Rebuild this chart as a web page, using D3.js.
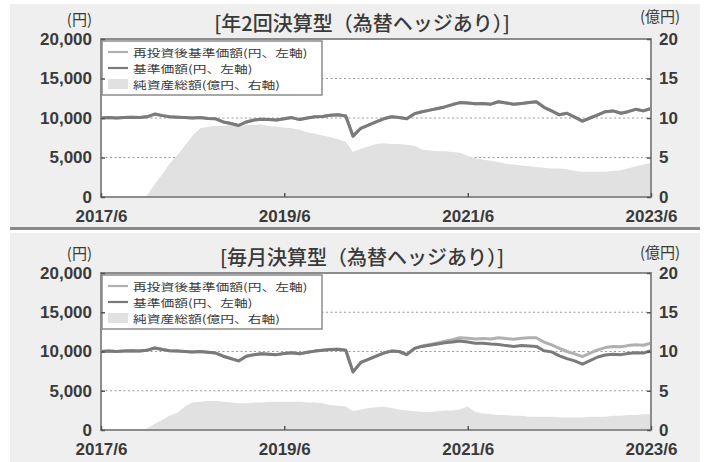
<!DOCTYPE html>
<html>
<head>
<meta charset="utf-8">
<script src="https://cdn.jsdelivr.net/npm/d3@7"></script>
<style>
    body { margin: 0; background: #fff; }
    svg { display: block; font-family: "Liberation Sans", Arial, sans-serif; }
    .jp { font-family: "Noto Sans CJK JP", sans-serif; }
</style>
</head>
<body>
<div id="chart"></div>
<script>
// x axis: monthly points from 2017/6 to 2023/6
const MONTHS = d3.timeMonth.range(new Date(2017, 5, 1), new Date(2023, 6, 1));
const X_TICKS = [new Date(2017, 5, 1), new Date(2019, 5, 1), new Date(2021, 5, 1), new Date(2023, 5, 1)];
const Y_LEFT_TICKS = [0, 5000, 10000, 15000, 20000];
const Y_RIGHT_TICKS = [0, 5, 10, 15, 20];
const GRID_TICKS = [5000, 10000, 15000];
const LEGEND_LABELS = ["再投資後基準価額(円、左軸)", "基準価額(円、左軸)", "純資産総額(億円、右軸)"];
const TITLES = ["[年2回決算型（為替ヘッジあり）]", "[毎月決算型（為替ヘッジあり）]"];

// 年2回決算型 — 基準価額 (円)
const semiNav = [
    10000, 10050, 10000, 10050, 10100, 10050, 10150, 10500, 10300, 10150, 10100, 10050,
    10000, 10050, 9950, 9900, 9500, 9300, 9050, 9500, 9750, 9850, 9800, 9750,
    9900, 10050, 9800, 10000, 10150, 10200, 10350, 10400, 10250, 7700, 8700, 9100,
    9500, 9900, 10150, 10050, 9900, 10550, 10800, 11000, 11200, 11400, 11700, 11950,
    11900, 11800, 11850, 11750, 12050, 11900, 11750, 11850, 11950, 12050, 11350, 10900,
    10400, 10600, 10100, 9600, 10000, 10400, 10800, 10900, 10600, 10800, 11100, 10900,
    11200
];
// no distributions paid, so the reinvested line sits under the NAV line
const semiReinv = semiNav;
// 年2回決算型 — 純資産総額 (億円)
const semiAssets = [
    0, 0, 0, 0, 0, 0, 0.2, 1.6, 2.9, 4.2, 5.3, 6.5,
    7.8, 8.7, 8.9, 9.0, 9.0, 9.1, 9.0, 9.1, 9.1, 9.2, 9.0, 8.9,
    8.8, 8.7, 8.5, 8.2, 8.0, 7.8, 7.6, 7.3, 7.0, 5.7, 6.1, 6.4,
    6.7, 6.8, 6.7, 6.7, 6.6, 6.5, 6.0, 5.9, 5.8, 5.8, 5.7, 5.6,
    5.2, 4.9, 4.7, 4.6, 4.4, 4.2, 4.1, 4.0, 3.9, 3.8, 3.7, 3.6,
    3.6, 3.5, 3.3, 3.2, 3.2, 3.2, 3.2, 3.3, 3.4, 3.6, 3.9, 4.1,
    4.3
];

// 毎月決算型 — 再投資後基準価額 (円)
const monthlyReinv = [
    10000, 10050, 10000, 10050, 10100, 10050, 10150, 10450, 10250, 10100, 10050, 10000,
    9950, 10000, 9900, 9800, 9400, 9100, 8800, 9400, 9600, 9700, 9650, 9600,
    9750, 9850, 9700, 9900, 10050, 10150, 10250, 10300, 10150, 7400, 8600, 9000,
    9400, 9800, 10050, 10000, 9600, 10400, 10700, 10900, 11100, 11300, 11500, 11750,
    11700, 11600, 11650, 11600, 11750, 11650, 11550, 11700, 11750, 11750, 11200, 10850,
    10400, 10000, 9700, 9350, 9800, 10200, 10500, 10650, 10600, 10750, 10850, 10800,
    11050
];
// 毎月決算型 — 基準価額 (円)
const monthlyNav = [
    10000, 10050, 10000, 10050, 10100, 10050, 10150, 10450, 10250, 10100, 10050, 10000,
    9950, 10000, 9900, 9800, 9400, 9100, 8800, 9400, 9600, 9700, 9650, 9600,
    9750, 9850, 9700, 9900, 10050, 10150, 10250, 10300, 10150, 7400, 8600, 9000,
    9400, 9800, 10050, 10000, 9600, 10400, 10650, 10800, 10950, 11100, 11200, 11350,
    11200, 11050, 11050, 10950, 10900, 10750, 10650, 10750, 10700, 10650, 10100, 9950,
    9450, 9100, 8800, 8400, 8850, 9300, 9550, 9650, 9600, 9750, 9850, 9800,
    10100
];
// 毎月決算型 — 純資産総額 (億円)
const monthlyAssets = [
    0, 0, 0, 0, 0, 0, 0.2, 0.8, 1.3, 1.8, 2.2, 3.0,
    3.5, 3.6, 3.7, 3.7, 3.6, 3.5, 3.4, 3.4, 3.5, 3.5, 3.6, 3.6,
    3.6, 3.6, 3.6, 3.5, 3.5, 3.4, 3.2, 3.1, 3.0, 2.4, 2.6, 2.8,
    2.9, 3.0, 2.8, 2.6, 2.5, 2.4, 2.3, 2.3, 2.4, 2.5, 2.5, 2.6,
    3.0, 2.3, 2.1, 2.0, 1.9, 1.9, 1.8, 1.8, 1.7, 1.7, 1.7, 1.7,
    1.6, 1.6, 1.6, 1.6, 1.7, 1.7, 1.7, 1.8, 1.8, 1.9, 1.9, 2.0,
    2.0
];

const C_REINV = "#b0b0b0", C_NAV = "#7a7a7a", C_AREA = "#e1e1e1", C_AXIS = "#8c8c8c", C_TEXT = "#3a3a3a";

const svg = d3.select("#chart").append("svg").attr("width", 711).attr("height", 462);

const x = d3.scaleTime().domain([X_TICKS[0], X_TICKS[3]]).range([101, 651]);

const panels = [
    { top: 4, bottom: 228, plotTop: 39, plotBottom: 197, titleY: 31, unitRY: 22,
      title: TITLES[0], reinv: semiReinv, nav: semiNav, assets: semiAssets },
    { top: 233, bottom: 462, plotTop: 273, plotBottom: 430, titleY: 265, unitRY: 258,
      title: TITLES[1], reinv: monthlyReinv, nav: monthlyNav, assets: monthlyAssets }
];

panels.forEach(p => drawPanel(p));

// separator rule between the two panels
svg.append("rect").attr("x", 10).attr("y", 227).attr("width", 690).attr("height", 3).attr("fill", "#8a8a8a");

function drawPanel(p) {
    const g = svg.append("g");
    const L = x.range()[0], R = x.range()[1];

    g.append("rect").attr("x", 10).attr("y", p.top).attr("width", 690).attr("height", p.bottom - p.top)
        .attr("fill", "#efefef");
    g.append("rect").attr("x", L).attr("y", p.plotTop).attr("width", R - L).attr("height", p.plotBottom - p.plotTop)
        .attr("fill", "#fff");

    const yL = d3.scaleLinear().domain([0, 20000]).range([p.plotBottom, p.plotTop]);
    const yR = d3.scaleLinear().domain([0, 20]).range([p.plotBottom, p.plotTop]);

    // dotted gridlines
    g.selectAll(".grid").data(GRID_TICKS).enter().append("line")
        .attr("x1", L).attr("x2", R).attr("y1", d => yL(d)).attr("y2", d => yL(d))
        .attr("stroke", "#9a9a9a").attr("stroke-width", 1.2).attr("stroke-dasharray", "2,2.5");

    // net assets area (right axis)
    const area = d3.area().x((d, i) => x(MONTHS[i])).y0(p.plotBottom).y1(d => yR(d));
    g.append("path").datum(p.assets).attr("d", area).attr("fill", C_AREA);

    const line = d3.line().x((d, i) => x(MONTHS[i])).y(d => yL(d));
    g.append("path").datum(p.reinv).attr("d", line).attr("fill", "none")
        .attr("stroke", C_REINV).attr("stroke-width", 3).attr("stroke-linejoin", "round");
    g.append("path").datum(p.nav).attr("d", line).attr("fill", "none")
        .attr("stroke", C_NAV).attr("stroke-width", 3).attr("stroke-linejoin", "round");

    // legend (text squeezed vertically so the three rows fit the small box)
    const lg = g.append("g").attr("transform", `translate(${L + 1},${p.plotTop + 2})`);
    lg.append("rect").attr("width", 220).attr("height", 54).attr("fill", "#fff")
        .attr("stroke", C_AXIS).attr("stroke-width", 1.5);
    const swatch = [C_REINV, C_NAV, C_AREA];
    LEGEND_LABELS.forEach((lab, i) => {
        const cy = 11 + i * 16;
        if (i < 2) {
            lg.append("line").attr("x1", 6).attr("x2", 26).attr("y1", cy).attr("y2", cy)
                .attr("stroke", swatch[i]).attr("stroke-width", 2.2);
        } else {
            lg.append("rect").attr("x", 6).attr("y", cy - 5).attr("width", 20).attr("height", 10).attr("fill", swatch[i]);
        }
        lg.append("text").attr("class", "jp")
            .attr("transform", `translate(31,${cy + 4.5}) scale(1.06,0.82)`)
            .style("font-size", "13px").style("fill", C_TEXT).text(lab);
    });

    // frame
    g.append("rect").attr("x", L).attr("y", p.plotTop).attr("width", R - L).attr("height", p.plotBottom - p.plotTop)
        .attr("fill", "none").attr("stroke", C_AXIS).attr("stroke-width", 2);

    const styleAxis = sel => {
        sel.select(".domain").remove();
        sel.selectAll("line").attr("stroke", "#555").attr("stroke-width", 1.5);
        sel.selectAll("text").style("font-size", "17px").style("font-weight", "bold")
            .style("fill", C_TEXT);
    };

    g.append("g").attr("transform", `translate(${L},0)`)
        .call(d3.axisLeft(yL).tickValues(Y_LEFT_TICKS).tickSize(-4).tickSizeOuter(0).tickPadding(9)
            .tickFormat(d3.format(",")))
        .call(styleAxis);
    g.append("g").attr("transform", `translate(${R},0)`)
        .call(d3.axisRight(yR).tickValues(Y_RIGHT_TICKS).tickSize(-4).tickSizeOuter(0).tickPadding(8))
        .call(styleAxis);
    g.append("g").attr("transform", `translate(0,${p.plotBottom})`)
        .call(d3.axisBottom(x).tickValues(X_TICKS).tickSize(-4).tickSizeOuter(0).tickPadding(13)
            .tickFormat(d => `${d.getFullYear()}/${d.getMonth() + 1}`))
        .call(styleAxis);

    // units and title
    g.append("text").attr("class", "jp").attr("x", 92).attr("y", p.plotTop - 14).attr("text-anchor", "end")
        .style("font-size", "15px").style("fill", C_TEXT).text("(円)");
    g.append("text").attr("class", "jp").attr("x", 660).attr("y", p.unitRY).attr("text-anchor", "middle")
        .style("font-size", "15px").style("fill", C_TEXT).text("(億円)");
    g.append("text").attr("class", "jp").attr("x", 362).attr("y", p.titleY).attr("text-anchor", "middle")
        .style("font-size", "20px").style("font-weight", "500").style("fill", C_TEXT).text(p.title);
}
</script>
</body>
</html>
